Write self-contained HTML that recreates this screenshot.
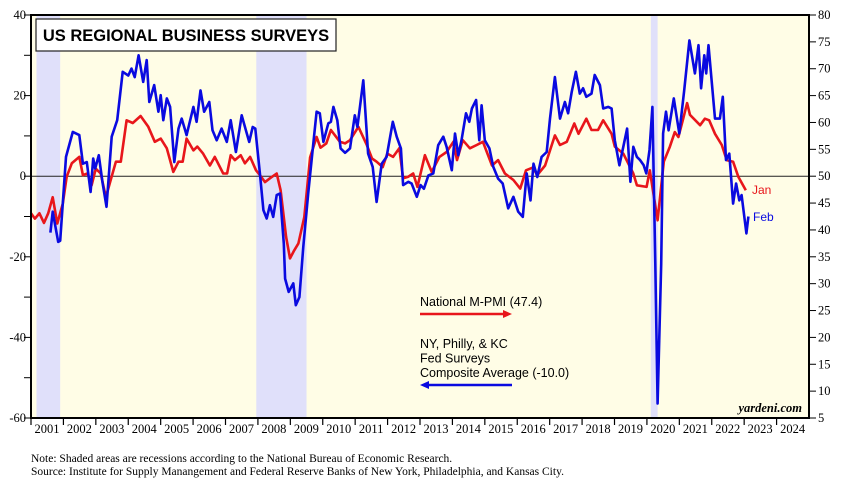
<!DOCTYPE html>
<html><head><meta charset="utf-8"><style>
body{margin:0;background:#fff;width:845px;height:485px;overflow:hidden}
svg{display:block}
</style></head><body>
<svg id="c" width="845" height="485" xmlns="http://www.w3.org/2000/svg"></svg>
<script>
const years=[2001,2002,2003,2004,2005,2006,2007,2008,2009,2010,2011,2012,2013,2014,2015,2016,2017,2018,2019,2020,2021,2022,2023,2024];
const leftTicks=[40,20,0,-20,-40,-60];
const rightTicks=[80,75,70,65,60,55,50,45,40,35,30,25,20,15,10,5];
const recessions=[[2001.17,2001.9],[2007.95,2009.5],[2020.12,2020.33]];
const blueDates=[2001.6,2001.67,2001.84,2001.9,2002.08,2002.29,2002.49,2002.6,2002.72,2002.84,2002.92,2002.98,2003.09,2003.21,2003.33,2003.49,2003.66,2003.83,2004.0,2004.1,2004.2,2004.32,2004.46,2004.57,2004.65,2004.8,2004.93,2005.0,2005.08,2005.19,2005.29,2005.42,2005.55,2005.65,2005.8,2006.01,2006.11,2006.23,2006.34,2006.5,2006.6,2006.73,2006.88,2007.04,2007.16,2007.32,2007.5,2007.63,2007.73,2007.84,2007.92,2008.06,2008.17,2008.27,2008.37,2008.47,2008.58,2008.68,2008.8,2008.84,2008.95,2009.09,2009.17,2009.28,2009.4,2009.55,2009.71,2009.81,2009.91,2010.02,2010.17,2010.25,2010.33,2010.45,2010.55,2010.69,2010.84,2010.99,2011.07,2011.25,2011.4,2011.54,2011.66,2011.82,2011.97,2012.16,2012.28,2012.41,2012.48,2012.64,2012.74,2012.9,2013.02,2013.12,2013.26,2013.41,2013.56,2013.72,2013.82,2013.98,2014.08,2014.18,2014.28,2014.42,2014.52,2014.6,2014.73,2014.83,2014.9,2015.0,2015.14,2015.26,2015.41,2015.55,2015.72,2015.88,2016.03,2016.17,2016.29,2016.41,2016.5,2016.62,2016.75,2016.91,2017.01,2017.16,2017.32,2017.47,2017.57,2017.68,2017.81,2017.93,2018.03,2018.13,2018.29,2018.39,2018.55,2018.65,2018.81,2018.91,2019.01,2019.15,2019.27,2019.39,2019.49,2019.58,2019.69,2019.79,2019.9,2019.98,2020.08,2020.17,2020.26,2020.33,2020.44,2020.5,2020.59,2020.67,2020.83,2021.0,2021.15,2021.31,2021.48,2021.59,2021.67,2021.77,2021.83,2021.9,2022.1,2022.25,2022.34,2022.44,2022.54,2022.66,2022.75,2022.85,2022.92,2023.07,2023.13];
const blueValues=[-14,-8.8,-16.3,-16,4.8,11,10.2,3.1,3.5,-3.9,4.4,1.9,5.2,-1.7,-7.6,9.8,13.9,25.9,25,26.7,24.6,30,23.4,28.8,18.4,22.6,16,20.1,13.9,19.3,17.2,3.5,11.8,14.3,10.2,17.2,13.5,21.3,16,18.4,11.4,8.9,11.8,8.5,13.9,6,15.1,11.4,8.5,12.2,11.8,0.7,-8.4,-10.5,-7.2,-10.1,-4.7,-4.3,-16.7,-25.4,-28.7,-26.6,-32,-30,-17.5,-4.3,8.1,16,15.6,8.5,13.1,13.5,17.2,13.9,6.9,5.8,6.9,15.1,12.2,23.8,5.6,2.3,-6.4,3.1,4.8,13.5,9.8,6.9,-2.2,-1.4,-1.8,-5.1,-2.2,-3.1,0.2,0.7,7.7,9.8,7.3,1.5,10.6,5.2,8.9,15.6,13.5,16.8,18.9,8.9,17.6,8.9,6.9,2.3,-0.6,-1.8,-8,-5.1,-8.8,-10.1,0.7,-6,3.1,-0.2,4.8,6,14.3,24.6,14.3,18.4,15.6,20.9,25.9,20.5,21.8,19.7,20.5,25.1,22.6,16.8,17.2,16.8,8.9,2.7,7.3,11.8,-1.4,7.3,4.8,4,2.7,0.7,6.5,17.2,-21.7,-56.4,-21.7,10.6,16,11.4,19.3,10.6,21.3,33.7,25.5,32.5,21.8,30,25.5,32.5,14.3,14.3,19.7,4,5.6,-6.8,-1.8,-6,-4.7,-14.2,-10];
const redDates=[2001.0,2001.12,2001.26,2001.4,2001.53,2001.67,2001.81,2001.98,2002.1,2002.26,2002.49,2002.6,2002.74,2002.87,2003.0,2003.15,2003.31,2003.44,2003.62,2003.77,2003.95,2004.14,2004.38,2004.62,2004.82,2005.0,2005.19,2005.39,2005.55,2005.68,2005.8,2006.01,2006.13,2006.31,2006.52,2006.67,2006.93,2007.05,2007.16,2007.29,2007.47,2007.6,2007.76,2007.94,2008.06,2008.22,2008.37,2008.58,2008.7,2008.87,2008.99,2009.12,2009.25,2009.43,2009.61,2009.81,2009.93,2010.11,2010.25,2010.53,2010.69,2010.84,2011.1,2011.36,2011.52,2011.66,2011.85,2011.99,2012.17,2012.36,2012.48,2012.64,2012.79,2012.92,2013.15,2013.36,2013.6,2013.82,2014.03,2014.14,2014.32,2014.54,2014.75,2014.94,2015.22,2015.41,2015.62,2015.88,2016.09,2016.27,2016.48,2016.62,2016.86,2017.16,2017.32,2017.53,2017.76,2017.89,2018.13,2018.29,2018.49,2018.65,2018.91,2019.01,2019.27,2019.58,2019.69,2019.99,2020.09,2020.33,2020.52,2020.71,2020.86,2020.97,2021.12,2021.24,2021.33,2021.64,2021.79,2021.92,2022.1,2022.31,2022.46,2022.66,2022.82,2023.05];
const redValues=[43.1,42.1,43.1,41.3,43.1,46.1,41.2,44.9,49.9,52.4,53.6,50.2,50.5,48.3,51.4,50.5,46.1,48.9,52.7,52.7,60.4,59.9,61.2,59.2,56.4,57,55.2,50.8,52.7,52.7,57,54.8,55.5,54.2,52,53.6,50.5,50.5,53.9,53,53.9,52.4,53.6,51.1,50.2,48.9,49.6,50.5,47.4,38.7,34.7,36.2,37.5,42.4,53.5,57.3,55.3,56.1,58.6,56.4,56.1,56.7,59.2,55.8,53.3,52.7,51.7,54.2,53.6,55.2,49.6,49.9,50.5,48,53.9,50.8,53.6,54.5,56.4,53,56.7,55.2,55.8,56.4,52,53,50.5,49.3,47.7,51.1,51.6,50.2,52,57.6,55.8,56.4,59.8,57.9,60.7,58.6,58.6,60.4,57.9,55.5,54.2,50.5,48.3,48,51.1,41.8,52.7,55.5,58.2,57.3,60.7,63.6,61.4,59.5,60.7,60.4,57.9,55.8,53,52.7,49.9,47.4];

const NS='http://www.w3.org/2000/svg';
const svg=document.getElementById('c');
const X0=31,X1=809,Y0=15,Y1=418;
function xs(t){return X0+(t-2001)*(X1-X0)/24;}
function yl(v){return Y0+(40-v)*(Y1-Y0)/100;}
function yr(v){return Y0+(80-v)*(Y1-Y0)/75;}
function el(tag,attrs,parent){const e=document.createElementNS(NS,tag);for(const k in attrs)e.setAttribute(k,attrs[k]);(parent||svg).appendChild(e);return e;}
function txt(s,attrs){const e=el('text',attrs);e.textContent=s;return e;}

let e=el('rect',{x:X0,y:Y0,width:X1-X0,height:Y1-Y0,fill:'#fffde6'});


recessions.forEach(r=>{
  const b=el('rect',{x:xs(r[0]),y:Y0,width:xs(r[1])-xs(r[0]),height:Y1-Y0,fill:'#e0e0fa'});
  
  
});
e=el('line',{x1:X0,x2:X1,y1:yl(0),y2:yl(0),stroke:'#222','stroke-width':1});



function series(d,v,yf,color,name){
  const p=el('polyline',{points:d.map((t,i)=>xs(t).toFixed(1)+','+yf(v[i]).toFixed(1)).join(' '),fill:'none',stroke:color,'stroke-width':2.6,'stroke-linejoin':'round'});
  
  
}
series(redDates,redValues,yr,'#e8161b','national-mpmi-line');
series(blueDates,blueValues,yl,'#0a0ae0','fed-composite-line');

// frame
e=el('rect',{x:X0,y:Y0,width:X1-X0,height:Y1-Y0,fill:'none',stroke:'#000','stroke-width':2});



// left axis
for(let v=-60;v<=40;v+=10){el('line',{x1:X0-7,x2:X0,y1:yl(v),y2:yl(v),stroke:'#000','stroke-width':1});}
leftTicks.forEach(v=>{
  const t=txt(String(v),{x:26,y:yl(v)+4,'text-anchor':'end','font-family':'Liberation Serif, serif','font-size':12.5,fill:'#000'});
  
  
});
rightTicks.forEach(v=>{
  el('line',{x1:X1,x2:X1+7,y1:yr(v),y2:yr(v),stroke:'#000','stroke-width':1});
  const t=txt(String(v),{x:818,y:yr(v)+4,'font-family':'Liberation Serif, serif','font-size':12.5,fill:'#000'});
  
  
});
years.forEach(y=>{
  el('line',{x1:xs(y),x2:xs(y),y1:Y1,y2:Y1+7,stroke:'#000','stroke-width':1.2});
  const t=txt(String(y),{x:xs(y)+16,y:Y1+15,'text-anchor':'middle','font-family':'Liberation Serif, serif','font-size':12.5,fill:'#000'});
  
  
});

// title
e=el('rect',{x:36,y:19,width:300,height:32,fill:'#fff',stroke:'#222','stroke-width':1.2});


e=txt('US REGIONAL BUSINESS SURVEYS',{x:186,y:41,'text-anchor':'middle','font-family':'Liberation Sans, sans-serif','font-weight':'bold','font-size':16.5,fill:'#000'});



// end labels
e=txt('Jan',{x:752,y:194,'font-family':'Liberation Sans, sans-serif','font-size':12,fill:'#e8161b'});


e=txt('Feb',{x:753,y:221,'font-family':'Liberation Sans, sans-serif','font-size':12,fill:'#0a0ae0'});



// legend
e=txt('National M-PMI (47.4)',{x:420,y:306,'font-family':'Liberation Sans, sans-serif','font-size':12.5,fill:'#000'});


e=el('line',{x1:420,x2:505,y1:314,y2:314,stroke:'#e8161b','stroke-width':2.5});


el('polygon',{points:'512,314 503,310 503,318',fill:'#e8161b'});
['NY, Philly, & KC','Fed Surveys','Composite Average (-10.0)'].forEach((s,i)=>{
  const t=txt(s,{x:420,y:348+i*14.5,'font-family':'Liberation Sans, sans-serif','font-size':12.5,fill:'#000'});
  
  
});
e=el('line',{x1:427,x2:512,y1:385,y2:385,stroke:'#0a0ae0','stroke-width':2.5});


el('polygon',{points:'420,385 429,381 429,389',fill:'#0a0ae0'});

e=txt('yardeni.com',{x:802,y:412,'text-anchor':'end','font-family':'Liberation Serif, serif','font-style':'italic','font-weight':'bold','font-size':12.5,fill:'#000'});


e=txt('Note: Shaded areas are recessions according to the National Bureau of Economic Research.',{x:31,y:462,'font-family':'Liberation Serif, serif','font-size':11.5,fill:'#000'});


e=txt('Source: Institute for Supply Manangement and Federal Reserve Banks of New York, Philadelphia, and Kansas City.',{x:31,y:475,'font-family':'Liberation Serif, serif','font-size':11.5,fill:'#000'});


</script>
</body></html>
